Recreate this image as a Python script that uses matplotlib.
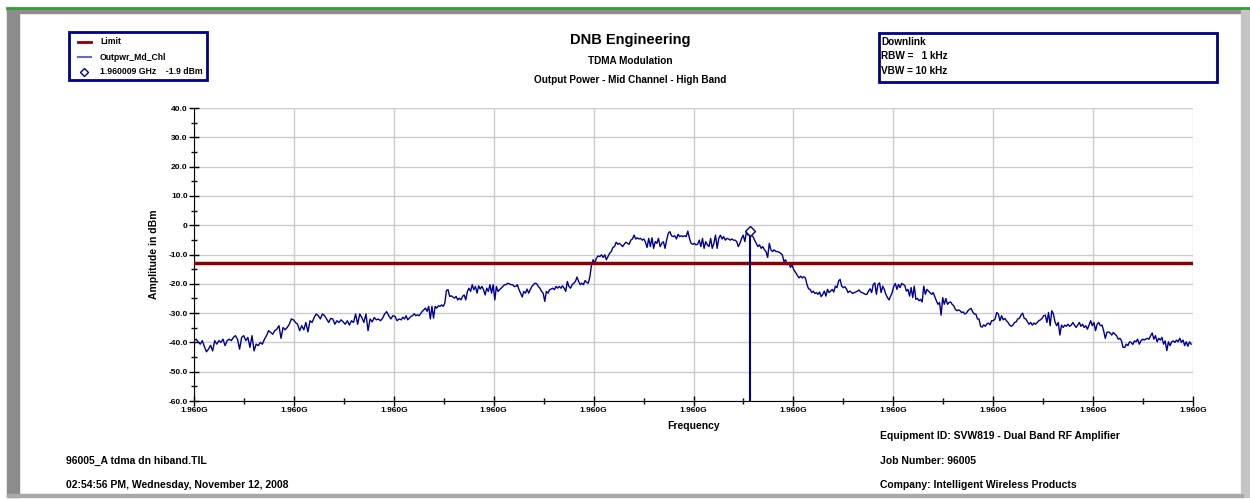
import numpy as np
import matplotlib
matplotlib.use("Agg")
import matplotlib.pyplot as plt
from matplotlib.patches import Rectangle
from matplotlib.lines import Line2D
from matplotlib.ticker import FixedLocator, FuncFormatter, MultipleLocator

plt.rcParams['font.family'] = ['Liberation Sans', 'DejaVu Sans']
plt.rcParams['font.weight'] = 'bold'

f_start = 1.95992   # GHz
f_stop = 1.96008    # GHz
limit_dbm = -13.0
marker_ghz = 1.960009
marker_dbm = -1.9

# segments du trace : debut / fin en kHz depuis f_start
seg_khz = [(0.0, 32.85), (33.2, 64.7), (65.0, 96.05), (96.4, 128.0), (128.3, 159.7)]

seg1 = [-39.4, -38.9, -39.8, -40.6, -39.4, -41.4, -43.2, -42.3, -41.0, -42.9,
        -39.4, -40.6, -39.4, -40.0, -38.9, -41.1, -39.4, -38.9, -39.4, -38.3,
        -37.7, -38.9, -42.3, -38.3, -37.7, -39.4, -38.3, -41.7, -37.7, -42.9,
        -40.6, -41.1, -40.0, -40.6, -38.9, -37.7, -36.0, -36.6, -37.2, -36.0,
        -35.5, -34.3, -38.6, -34.9, -35.7, -34.9, -33.8, -32.0, -32.3, -33.2,
        -33.8, -36.0, -34.3, -35.7, -33.2, -36.4, -32.6, -33.2, -31.5, -30.3,
        -30.9, -32.0, -30.3, -30.9, -32.0, -33.2, -31.8, -32.0, -33.8, -32.6,
        -33.2, -32.3, -33.0, -33.8, -32.6, -34.1, -32.6, -33.2, -30.3, -33.8,
        -30.3, -31.5, -33.2, -30.3, -36.0, -32.0, -33.0, -31.5, -32.3, -32.0,
        -32.6, -31.8, -30.3, -29.5, -30.9, -32.0, -30.9, -31.1, -32.6, -32.0]

seg2 = [-32.3, -31.4, -32.0, -30.9, -32.3, -31.7, -31.1, -30.9, -30.2, -30.9,
        -30.6, -30.9, -30.2, -29.4, -28.9, -28.3, -29.4, -27.7, -32.0, -27.7,
        -31.7, -27.7, -28.3, -27.5, -27.7, -27.2, -27.7, -26.6, -22.3, -22.0,
        -24.3, -24.1, -24.5, -24.9, -24.3, -25.5, -24.9, -25.5, -24.3, -23.8,
        -25.5, -22.6, -21.5, -22.6, -20.3, -22.0, -20.9, -23.2, -20.7, -21.8,
        -20.9, -22.0, -23.8, -21.5, -22.6, -20.3, -23.2, -20.3, -25.5, -20.9,
        -22.6, -22.0, -21.5, -20.9, -20.3, -20.3, -19.8, -20.0, -20.3, -20.3,
        -20.9, -20.9, -20.3, -22.0, -23.2, -24.5, -22.6, -23.2, -21.8, -23.2,
        -22.0, -20.9, -20.3, -19.8, -20.0, -20.9, -21.5, -22.6, -23.2, -26.0,
        -22.6, -23.2, -22.0, -21.8, -21.5, -22.0, -20.9, -21.5, -20.9, -21.5,
        -20.7, -21.5, -22.6, -19.2, -20.9, -21.5, -20.3, -19.8, -19.2, -17.7,
        -19.2, -20.3, -19.8, -20.3, -18.9, -19.5, -19.8, -17.5, -13.5, -11.8,
        -13.0, -11.3, -10.5]

seg3 = [-10.7, -10.1, -11.0, -10.1, -11.8, -10.7, -9.6, -9.0, -7.6, -7.3,
        -5.8, -6.5, -6.2, -6.7, -7.3, -6.5, -5.8, -6.2, -6.5, -5.1,
        -4.7, -3.4, -4.7, -4.3, -4.7, -4.5, -5.1, -4.7, -5.8, -7.6,
        -4.5, -7.3, -4.3, -7.9, -5.6, -6.2, -4.5, -7.3, -6.2, -5.6,
        -7.9, -5.1, -2.8, -2.2, -3.6, -3.9, -3.6, -4.7, -3.1, -3.9,
        -3.6, -3.9, -3.6, -3.9, -2.0, -4.5, -6.2, -6.5, -6.2, -6.7,
        -6.5, -5.1, -7.3, -4.5, -7.9, -5.6, -6.7, -7.3, -4.5, -7.9,
        -6.2, -3.4, -7.9, -4.5, -3.4, -4.7, -3.9, -5.1, -4.5, -4.7,
        -5.1, -4.7, -5.1, -5.1, -5.6, -7.3, -6.2, -4.5, -3.4, -5.6,
        -2.2, -3.4, -1.9, -3.4, -3.9, -5.1, -6.2, -7.3, -6.7, -7.9,
        -7.3, -8.4, -9.0, -11.0, -6.2, -8.4, -9.0, -8.4, -9.0, -9.0,
        -9.2, -9.6, -10.1, -12.4, -11.8, -13.5, -12.9, -14.4, -13.5, -15.2]

seg4 = [-16.3, -17.2, -18.0, -17.4, -18.0, -17.6, -18.0, -20.2, -21.7, -21.9,
        -23.0, -22.5, -23.3, -23.0, -23.6, -22.8, -24.4, -23.6, -22.5, -24.2,
        -21.9, -23.0, -22.5, -21.9, -22.8, -20.8, -21.3, -19.1, -18.5, -20.8,
        -21.3, -21.0, -21.7, -23.0, -22.5, -22.8, -23.3, -23.0, -22.8, -22.5,
        -22.1, -22.8, -23.0, -23.3, -23.6, -23.6, -22.5, -21.7, -23.0, -20.2,
        -19.7, -23.6, -20.2, -19.7, -23.0, -20.8, -21.9, -23.6, -24.7, -25.5,
        -24.2, -23.0, -20.8, -19.9, -21.9, -20.2, -21.3, -19.9, -20.2, -20.6,
        -22.5, -21.9, -24.2, -21.3, -24.7, -20.8, -25.3, -25.0, -25.8, -25.3,
        -26.2, -20.8, -23.6, -21.9, -22.5, -23.0, -23.6, -23.0, -24.4, -25.8,
        -27.0, -26.4, -30.7, -24.7, -27.0, -25.0, -27.0, -26.4, -26.2, -27.0,
        -27.5, -28.7, -29.2, -28.9, -29.2, -29.8, -29.6, -30.3, -30.0, -29.2,
        -28.7, -28.4, -29.6, -30.3, -30.3, -32.0, -32.0, -34.5, -34.8, -34.0,
        -34.5, -33.7, -33.4, -34.0, -32.6, -32.6]

seg5 = [-32.0, -29.8, -30.3, -32.6, -30.9, -32.3, -31.8, -32.6, -33.2, -34.1,
        -34.5, -34.1, -33.2, -33.0, -32.0, -31.8, -30.7, -30.0, -31.8, -32.0,
        -33.0, -33.8, -33.2, -34.1, -33.4, -33.8, -33.2, -32.6, -32.3, -31.8,
        -30.9, -30.7, -33.2, -29.8, -34.3, -29.2, -30.3, -33.0, -34.3, -33.2,
        -37.5, -34.1, -34.9, -34.1, -34.5, -33.8, -34.5, -34.1, -33.2, -34.1,
        -34.9, -34.1, -33.2, -34.5, -33.8, -34.9, -34.3, -35.5, -34.1, -32.6,
        -34.3, -33.2, -36.0, -33.8, -33.2, -34.3, -34.1, -36.0, -38.6, -36.6,
        -36.4, -36.8, -37.5, -36.6, -37.2, -37.7, -38.9, -38.6, -39.4, -41.7,
        -41.7, -40.6, -41.1, -39.8, -40.0, -40.7, -39.5, -39.8, -38.9, -40.6,
        -39.5, -38.9, -39.2, -38.9, -38.6, -38.9, -37.7, -36.8, -38.9, -37.7,
        -39.8, -38.6, -39.2, -38.3, -40.6, -39.5, -42.8, -39.8, -41.1, -39.8,
        -39.5, -40.0, -39.2, -39.8, -38.6, -40.0, -39.2, -41.1, -39.8, -41.3,
        -39.8, -40.6]

segments = [seg1, seg2, seg3, seg4, seg5]

freq = np.concatenate([np.linspace(a, b, len(v)) for (a, b), v in zip(seg_khz, segments)])
freq = f_start + freq / 1e6
ampl = np.concatenate(segments)

print("Drawing data")

navy = "#000090"
darkred = "#8b0000"

fig = plt.figure(figsize=(12.5, 4.99), dpi=100)
W, H = 1250.0, 499.0

def fx(x):
    return x / W

def fy(y):
    return 1 - y / H

## cadre gris / vert autour de la figure
fig.patches.append(Rectangle((fx(7), fy(497)), fx(12) - fx(0), fy(8) - fy(497),
                             transform=fig.transFigure, color="#8c8c8c", zorder=0))
fig.patches.append(Rectangle((fx(7), fy(13)), fx(1243) - fx(7), fy(8) - fy(13),
                             transform=fig.transFigure, color="#8c8c8c", zorder=0))
fig.patches.append(Rectangle((fx(1241), fy(497)), fx(9), fy(8) - fy(497),
                             transform=fig.transFigure, color="#c4c4c4", zorder=0))
fig.patches.append(Rectangle((fx(7), fy(497)), fx(1243) - fx(7), fy(494) - fy(497),
                             transform=fig.transFigure, color="#a8a8a8", zorder=0))
fig.add_artist(Line2D([fx(7), 1], [fy(8), fy(8)], transform=fig.transFigure,
                      color="#3c9a3c", linewidth=2))

## axes
ax = fig.add_axes([fx(194), fy(401), fx(1193) - fx(194), fy(108) - fy(401)])
ax.plot(freq, ampl, color=navy, linewidth=1, zorder=3)
ax.axhline(limit_dbm, color=darkred, linewidth=2.5, zorder=4)
ax.plot([marker_ghz, marker_ghz], [-60, marker_dbm], color=navy, linewidth=1.5, zorder=5)
ax.plot([marker_ghz], [marker_dbm], marker="D", markersize=5, markerfacecolor="white",
        markeredgecolor=navy, markeredgewidth=1, zorder=6)

ax.set_xlim(f_start, f_stop)
ax.set_ylim(-60, 40)
ax.xaxis.set_major_locator(FixedLocator(np.linspace(f_start, f_stop, 11)))
ax.xaxis.set_minor_locator(FixedLocator(np.linspace(f_start, f_stop, 21)))
ax.xaxis.set_major_formatter(FuncFormatter(lambda v, p: "%.3fG" % v))
ax.yaxis.set_major_locator(MultipleLocator(10))
ax.yaxis.set_minor_locator(MultipleLocator(5))
ax.yaxis.set_major_formatter(FuncFormatter(lambda v, p: "0" if abs(v) < 1e-9 else "%.1f" % v))
ax.grid(True, which="major", color="#cccccc", linewidth=1)
ax.set_axisbelow(True)
for s in ["top", "right"]:
    ax.spines[s].set_visible(False)
ax.tick_params(which="major", direction="inout", length=7, width=1, labelsize=6, pad=1)
ax.tick_params(which="minor", direction="inout", length=5, width=1)
ax.set_xlabel("Frequency", fontsize=7.5, fontweight="bold", labelpad=5)
ax.set_ylabel("Amplitude in dBm", fontsize=7.5, fontweight="bold", labelpad=7)

## titres
fig.text(fx(630), fy(40), "DNB Engineering", ha="center", va="center", fontsize=10.5, fontweight="bold")
fig.text(fx(630), fy(61), "TDMA Modulation", ha="center", va="center", fontsize=7.2, fontweight="bold")
fig.text(fx(630), fy(80), "Output Power - Mid Channel - High Band", ha="center", va="center",
         fontsize=7.2, fontweight="bold")

## legende
fig.patches.append(Rectangle((fx(69), fy(80)), fx(207) - fx(69), fy(32) - fy(80),
                             transform=fig.transFigure, fill=False, edgecolor="#000080",
                             linewidth=2, zorder=5))
fig.add_artist(Line2D([fx(78), fx(91)], [fy(42), fy(42)], transform=fig.transFigure,
                      color=darkred, linewidth=2))
fig.add_artist(Line2D([fx(78), fx(91)], [fy(57), fy(57)], transform=fig.transFigure,
                      color="#6b6bbb", linewidth=1.5))
fig.add_artist(Line2D([fx(84)], [fy(72)], transform=fig.transFigure, marker="D", markersize=4,
                      markerfacecolor="white", markeredgecolor=navy, markeredgewidth=1))
fig.text(fx(100), fy(42), "Limit", va="center", fontsize=6.2, fontweight="bold")
fig.text(fx(100), fy(57), "Outpwr_Md_Chl", va="center", fontsize=6.2, fontweight="bold")
fig.text(fx(100), fy(72), "%.6f GHz    %.1f dBm" % (marker_ghz, marker_dbm), va="center",
         fontsize=6.2, fontweight="bold")

## boite en haut a droite
fig.patches.append(Rectangle((fx(879), fy(82)), fx(1217) - fx(879), fy(33) - fy(82),
                             transform=fig.transFigure, fill=False, edgecolor="#000080",
                             linewidth=2, zorder=5))
fig.text(fx(881), fy(42), "Downlink", va="center", fontsize=7.2, fontweight="bold")
fig.text(fx(881), fy(56), "RBW =   1 kHz", va="center", fontsize=7.2, fontweight="bold")
fig.text(fx(881), fy(71), "VBW = 10 kHz", va="center", fontsize=7.2, fontweight="bold")

## textes du bas
fig.text(fx(880), fy(436), "Equipment ID: SVW819 - Dual Band RF Amplifier", va="center",
         fontsize=7.5, fontweight="bold")
fig.text(fx(880), fy(461), "Job Number: 96005", va="center", fontsize=7.5, fontweight="bold")
fig.text(fx(880), fy(485), "Company: Intelligent Wireless Products", va="center",
         fontsize=7.5, fontweight="bold")
fig.text(fx(66), fy(461), "96005_A tdma dn hiband.TIL", va="center", fontsize=7.5, fontweight="bold")
fig.text(fx(66), fy(485), "02:54:56 PM, Wednesday, November 12, 2008", va="center",
         fontsize=7.5, fontweight="bold")

fig.savefig("out.png", dpi=100)
print("Done")
